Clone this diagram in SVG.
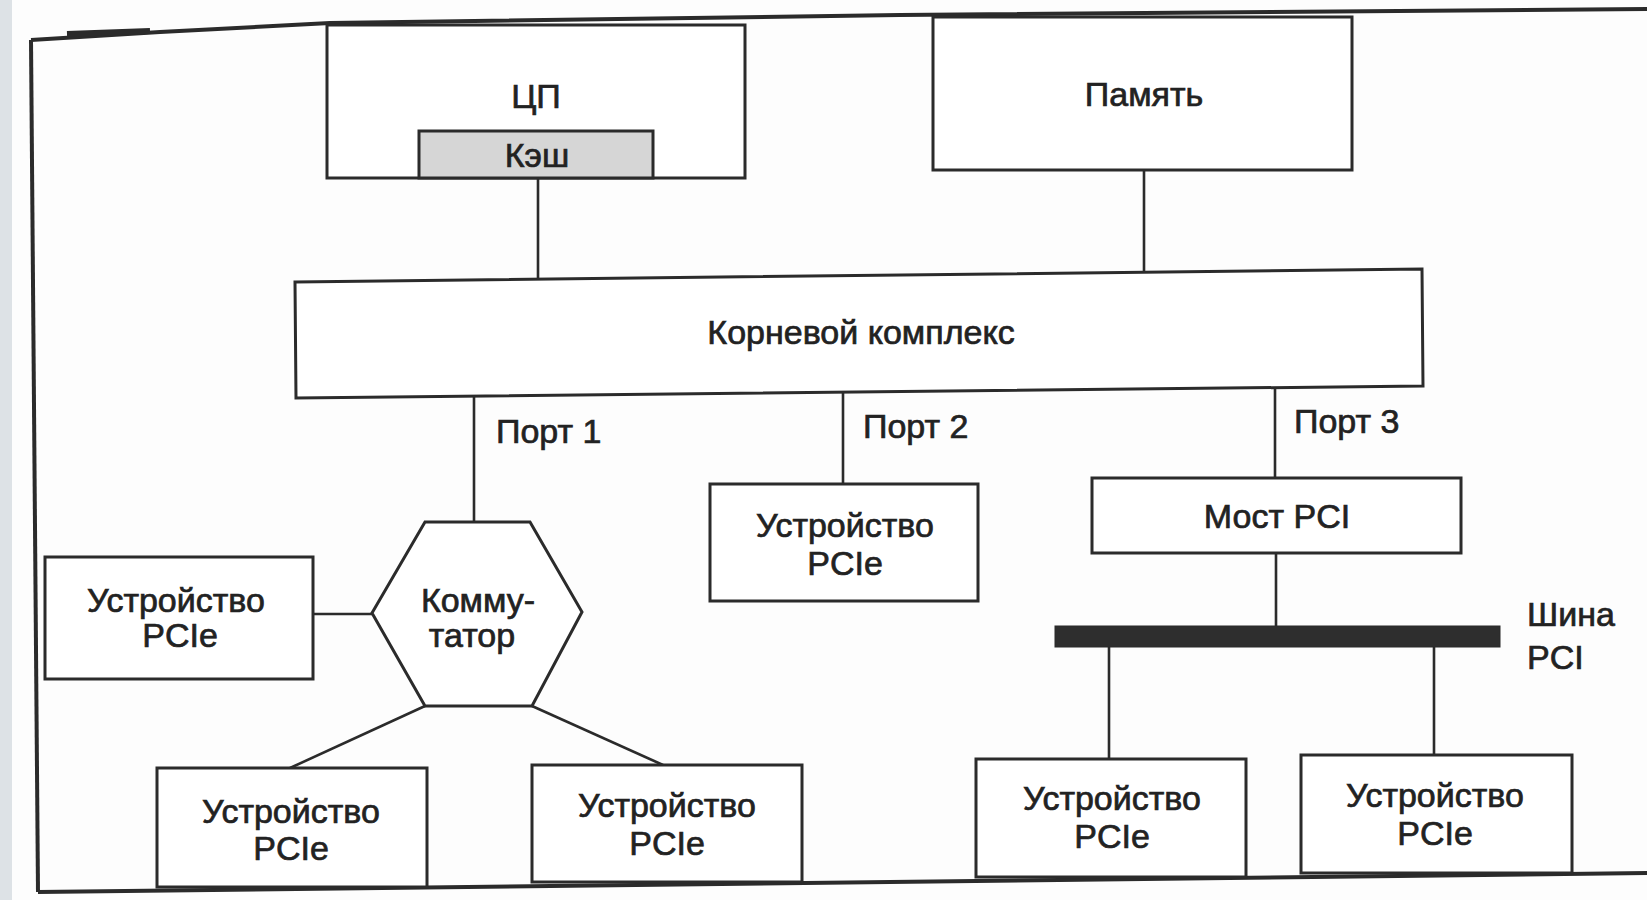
<svg xmlns="http://www.w3.org/2000/svg" width="1647" height="900" viewBox="0 0 1647 900">
  <style>
    .box { fill: #ffffff; stroke: #2b2b2b; stroke-width: 3; }
    .cache { fill: #d6d6d6; stroke: #2b2b2b; stroke-width: 3; }
    .bus { fill: #2e2e2e; stroke: #2b2b2b; stroke-width: 1; }
    .frame { fill: none; stroke: #2b2b2b; stroke-width: 4; stroke-linejoin: round; }
    .conn line { stroke: #2b2b2b; stroke-width: 2.6; }
    text { font-family: "Liberation Sans", Arial, sans-serif; font-size: 34px; fill: #222222; stroke: #222222; stroke-width: 0.7; }
    .c { text-anchor: middle; }
  </style>
  <rect x="0" y="0" width="1647" height="900" fill="#fdfdfd"/>
  <rect x="0" y="0" width="12" height="900" fill="#dde2e6"/>

  <g id="frame">
    <polyline class="frame" points="31,40 160,32 330,23 900,15 1647,9"/>
    <line x1="67" y1="34" x2="150" y2="31" stroke="#2b2b2b" stroke-width="6"/>
    <line class="frame" x1="31" y1="40" x2="38" y2="892"/>
    <line class="frame" x1="38" y1="892" x2="1647" y2="873"/>
  </g>

  <g id="connectors" class="conn">
    <line x1="538" y1="178" x2="538" y2="278"/>
    <line x1="1144" y1="170" x2="1144" y2="271"/>
    <line x1="474" y1="397" x2="474" y2="522"/>
    <line x1="843" y1="390" x2="843" y2="484"/>
    <line x1="1275" y1="387" x2="1275" y2="478"/>
    <line x1="313" y1="614" x2="372" y2="614"/>
    <line x1="425" y1="706" x2="290" y2="768"/>
    <line x1="532" y1="706" x2="663" y2="765"/>
    <line x1="1276" y1="553" x2="1276" y2="626"/>
    <line x1="1109" y1="647" x2="1109" y2="759"/>
    <line x1="1434" y1="647" x2="1434" y2="755"/>
  </g>

  <g id="cpu">
    <rect class="box" x="327" y="25" width="418" height="153"/>
    <text class="c" x="536" y="108">ЦП</text>
  </g>
  <g id="cache">
    <rect class="cache" x="419" y="131" width="234" height="47"/>
    <text class="c" x="537" y="167">Кэш</text>
  </g>
  <g id="memory">
    <rect class="box" x="933" y="17" width="419" height="153"/>
    <text class="c" x="1144" y="106">Память</text>
  </g>
  <g id="root-complex">
    <polygon class="box" points="295,282 1422,269 1423,386 296,398"/>
    <text class="c" x="861" y="344">Корневой комплекс</text>
  </g>
  <g id="port-labels">
    <text x="496" y="443">Порт 1</text>
    <text x="863" y="438">Порт 2</text>
    <text x="1294" y="433">Порт 3</text>
  </g>
  <g id="switch">
    <polygon class="box" points="425,522 530,522 582,612 532,706 425,706 372,613"/>
    <text class="c" x="478" y="612">Комму-</text>
    <text class="c" x="472" y="647">татор</text>
  </g>
  <g id="device-left">
    <rect class="box" x="45" y="557" width="268" height="122"/>
    <text class="c" x="176" y="612">Устройство</text>
    <text class="c" x="180" y="647">PCIe</text>
  </g>
  <g id="device-bottom-left">
    <rect class="box" x="157" y="768" width="270" height="119"/>
    <text class="c" x="291" y="823">Устройство</text>
    <text class="c" x="291" y="860">PCIe</text>
  </g>
  <g id="device-bottom-middle">
    <rect class="box" x="532" y="765" width="270" height="117"/>
    <text class="c" x="667" y="817">Устройство</text>
    <text class="c" x="667" y="855">PCIe</text>
  </g>
  <g id="device-port2">
    <rect class="box" x="710" y="484" width="268" height="117"/>
    <text class="c" x="845" y="537">Устройство</text>
    <text class="c" x="845" y="575">PCIe</text>
  </g>
  <g id="pci-bridge">
    <rect class="box" x="1092" y="478" width="369" height="75"/>
    <text class="c" x="1277" y="528">Мост PCI</text>
  </g>
  <g id="pci-bus">
    <rect class="bus" x="1055" y="626" width="445" height="21"/>
    <text x="1527" y="626">Шина</text>
    <text x="1527" y="669">PCI</text>
  </g>
  <g id="device-pci-a">
    <rect class="box" x="976" y="759" width="270" height="118"/>
    <text class="c" x="1112" y="810">Устройство</text>
    <text class="c" x="1112" y="848">PCIe</text>
  </g>
  <g id="device-pci-b">
    <rect class="box" x="1301" y="755" width="271" height="118"/>
    <text class="c" x="1435" y="807">Устройство</text>
    <text class="c" x="1435" y="845">PCIe</text>
  </g>
</svg>
